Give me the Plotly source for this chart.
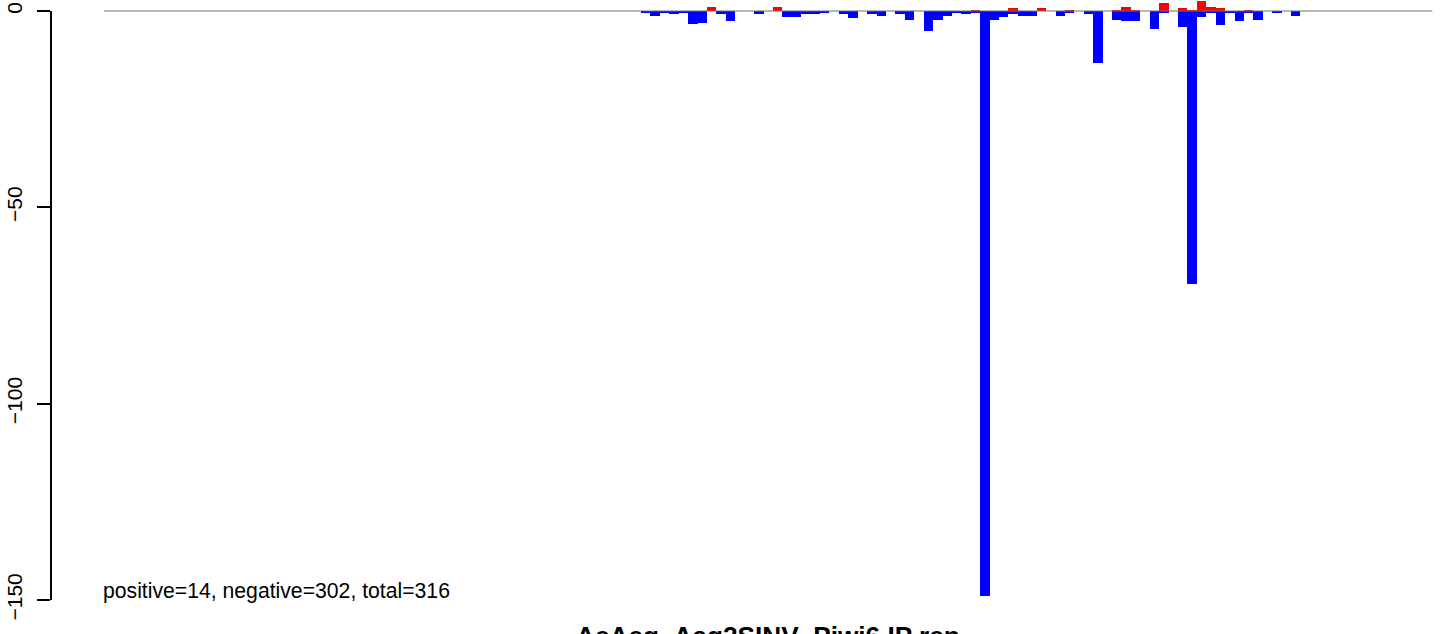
import plotly.graph_objects as go

# ---- data (per-bin counts) ----
bin_offset = 57          # index of first plotted bin along the genome axis
genome_bins = 141        # extent of the genome axis (in bins)

negative_values = [
    -0.5, -1.2, -0.5, -0.7, -0.4, -3.3, -3.0, 0, -0.7, -2.5,
    0, 0, -0.7, 0, 0, -1.4, -1.4, -0.7, -0.7, -0.4,
    0, -0.7, -1.7, 0, -0.7, -1.2, 0, -0.7, -2.2, 0,
    -5.0, -2.2, -1.2, -0.4, -0.7, -0.4, -149.0, -2.2, -1.4, -0.7,
    -1.2, -1.2, 0, 0, -1.2, -0.4, 0, -0.7, -13.2, 0,
    -2.2, -2.5, -2.5, 0, -4.7, -0.4, 0, -4.2, -69.4, -1.4,
    -0.4, -3.5, -0.4, -2.5, -0.4, -2.2, 0, -0.4, 0, -1.2,
]
positive_values = [
    0, 0, 0, 0, 0, 0, 0, 1.1, 0, 0,
    0, 0, 0, 0, 1.1, 0, 0, 0, 0, 0,
    0, 0, 0, 0, 0, 0, 0, 0, 0, 0,
    0, 0, 0, 0, 0, 0.3, 0, 0, 0, 0.8,
    0, 0, 0.8, 0, 0, 0.3, 0, 0, 0, 0,
    0.3, 1.1, 0.3, 0, 0, 2.0, 0, 0.8, 0.3, 2.5,
    1.1, 0.8, 0, 0, 0.3, 0, 0, 0, 0, 0,
]
y_ticks = [0, -50, -100, -150]
summary_text = "positive=14, negative=302, total=316"
title_text = "AeAeg_Aag2SINV_Piwi6 IP rep"

x_pos = [bin_offset + i + 0.5 for i in range(len(negative_values))]

FONT = "Liberation Sans, Arial, Helvetica, sans-serif"

fig = go.Figure()
fig.add_trace(go.Bar(x=x_pos, y=negative_values, width=1.0,
                     marker=dict(color="#0000FF", line=dict(width=0)),
                     showlegend=False, hoverinfo="skip"))
fig.add_trace(go.Bar(x=x_pos, y=positive_values, width=1.0,
                     marker=dict(color="#FF0000", line=dict(width=0)),
                     showlegend=False, hoverinfo="skip"))

# zero line across the genome extent
fig.add_shape(type="line", xref="x", yref="y", x0=0, x1=genome_bins, y0=0, y1=0,
              line=dict(color="#707070", width=1), layer="above")
# y axis line spanning the tick range (R style)
fig.add_shape(type="line", xref="paper", yref="y", x0=0, x1=0,
              y0=max(y_ticks), y1=min(y_ticks),
              line=dict(color="black", width=2), layer="above")

fig.add_annotation(x=-0.35, y=-147.7, xref="x", yref="y", text=summary_text,
                   showarrow=False, xanchor="left", yanchor="middle",
                   font=dict(family=FONT, size=21.2, color="black"))
fig.add_annotation(x=genome_bins / 2, y=-0.0195, xref="x", yref="paper",
                   text="<b>" + title_text + "</b>",
                   showarrow=False, xanchor="center", yanchor="middle",
                   font=dict(family=FONT, size=26.2, color="black"))

x_lo = -0.04 * genome_bins
px_per_bin = 9.42
plot_w = 1444 - 51
px_per_unit = 3.927
plot_h = 634 - 10
y_top = 11 / px_per_unit

fig.update_layout(
    width=1444, height=634, autosize=False,
    margin=dict(l=51, r=0, t=0, b=10, pad=0),
    paper_bgcolor="white", plot_bgcolor="white",
    barmode="overlay", bargap=0,
    font=dict(family=FONT, size=21, color="black"),
    xaxis=dict(visible=False, range=[x_lo, x_lo + plot_w / px_per_bin]),
    yaxis=dict(range=[y_top - plot_h / px_per_unit, y_top],
               tickvals=y_ticks, ticks="outside", ticklen=13, tickwidth=2,
               tickcolor="black", tickangle=-90, showgrid=False, zeroline=False,
               showline=False, ticklabelstandoff=7,
               tickfont=dict(family=FONT, size=21, color="black")),
)

fig.write_html("out.html",
               config={"displayModeBar": False, "staticPlot": True},
               post_script="document.body.style.margin='0px';document.body.style.overflow='hidden';")
